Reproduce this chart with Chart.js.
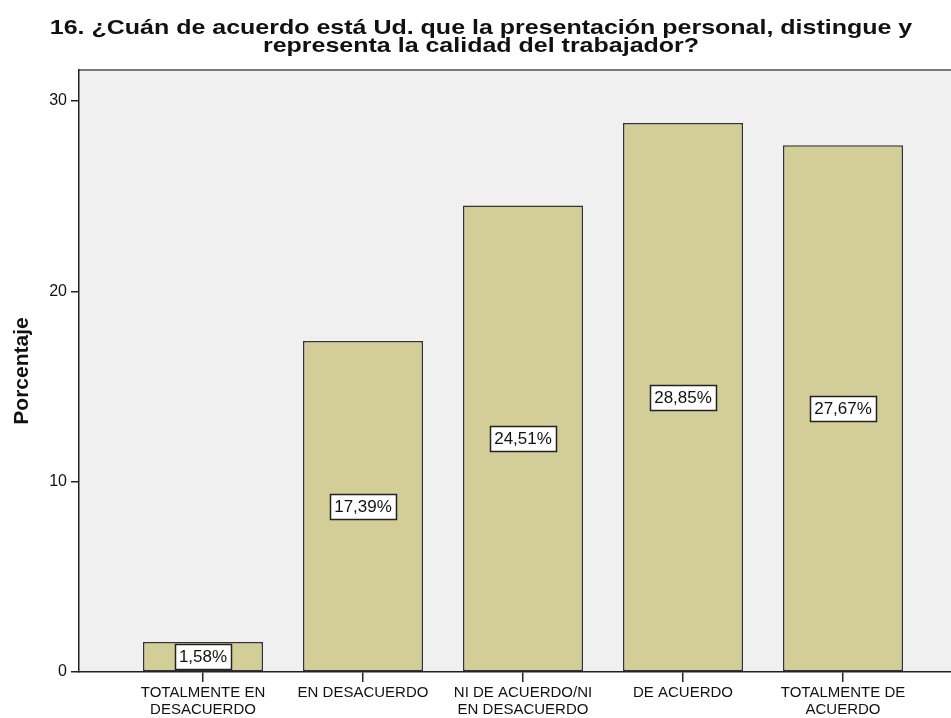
<!DOCTYPE html>
<html>
<head>
<meta charset="utf-8">
<title>Porcentaje</title>
<script src="https://cdn.jsdelivr.net/npm/chart.js@4.4.1/dist/chart.umd.min.js"></script>
<style>
  html, body { margin: 0; padding: 0; background: #fff; }
  canvas { display: block; }
</style>
</head>
<body>
<canvas id="grafico" width="951" height="718"></canvas>
<script>
// datos
const categorias = [
  ['TOTALMENTE EN', 'DESACUERDO'],
  'EN DESACUERDO',
  ['NI DE ACUERDO/NI', 'EN DESACUERDO'],
  'DE ACUERDO',
  ['TOTALMENTE DE', 'ACUERDO']
];
const porcentajes = [1.58, 17.39, 24.51, 28.85, 27.67];
const ticksY = [0, 10, 20, 30];
const titulo = [
  '16. ¿Cuán de acuerdo está Ud. que la presentación personal, distingue y',
  'representa la calidad del trabajador?'
];

const FUENTE = "'Liberation Sans', Arial, sans-serif";

// fondo gris del área, línea superior y título
const fondo = {
  id: 'fondo',
  beforeDraw(chart) {
    const { ctx, chartArea: a } = chart;
    ctx.save();
    ctx.fillStyle = '#fff';
    ctx.fillRect(0, 0, chart.width, chart.height);
    ctx.fillStyle = '#f0f0f0';
    ctx.fillRect(a.left, a.top, a.right - a.left, a.bottom - a.top);
    ctx.strokeStyle = '#7a7a7a';
    ctx.lineWidth = 2;
    ctx.beginPath();
    ctx.moveTo(a.left, a.top);
    ctx.lineTo(a.right, a.top);
    ctx.stroke();

    // título: el original está ensanchado en horizontal
    ctx.translate(481, 0);
    ctx.scale(1.19, 1);
    ctx.fillStyle = '#111';
    ctx.font = 'bold 21px ' + FUENTE;
    ctx.textAlign = 'center';
    ctx.textBaseline = 'middle';
    titulo.forEach((linea, i) => ctx.fillText(linea, 0, 28.5 + i * 18));
    ctx.restore();
  }
};

// etiquetas con recuadro blanco en el centro de cada barra
const etiquetas = {
  id: 'etiquetas',
  afterDatasetsDraw(chart) {
    const { ctx } = chart;
    const meta = chart.getDatasetMeta(0);
    ctx.save();
    ctx.font = '17px ' + FUENTE;
    ctx.textAlign = 'center';
    ctx.textBaseline = 'middle';
    meta.data.forEach((bar, i) => {
      const txt = porcentajes[i].toFixed(2).replace('.', ',') + '%';
      const w = Math.round(ctx.measureText(txt).width + 8);
      const h = 25;
      const cy = (bar.y + bar.base) / 2;
      const x0 = Math.round(bar.x - w / 2) + 0.5;
      const y0 = Math.round(cy - h / 2) + 0.5;
      ctx.fillStyle = '#fff';
      ctx.fillRect(x0, y0, w, h);
      ctx.strokeStyle = '#222';
      ctx.lineWidth = 1.5;
      ctx.strokeRect(x0, y0, w, h);
      ctx.fillStyle = '#111';
      ctx.fillText(txt, bar.x, cy + 1);
    });
    ctx.restore();
  }
};

new Chart(document.getElementById('grafico'), {
  type: 'bar',
  data: {
    datasets: [{
      data: porcentajes.map((v, i) => ({ x: i, y: v })),
      backgroundColor: '#d3ce97',
      borderColor: '#333',
      borderWidth: 1.5,
      borderSkipped: false,
      barPercentage: 0.75,
      categoryPercentage: 1
    }]
  },
  options: {
    responsive: false,
    devicePixelRatio: 1,
    animation: false,
    layout: { padding: { top: 70, left: 0, right: 0, bottom: 0 } },
    plugins: {
      legend: { display: false },
      tooltip: { enabled: false },
      title: { display: false }
    },
    scales: {
      x: {
        type: 'linear',
        offset: false,
        min: -0.775,
        max: 4.675,
        afterBuildTicks: s => { s.ticks = categorias.map((_, i) => ({ value: i })); },
        afterFit: s => { s.height = 46; },
        ticks: {
          autoSkip: false,
          maxRotation: 0,
          padding: 2,
          color: '#111',
          font: { family: FUENTE, size: 15, lineHeight: 1.15 },
          callback: v => categorias[v]
        },
        grid: { display: true, offset: false, drawOnChartArea: false, drawTicks: true, tickLength: 10, color: '#222', lineWidth: 1.5 },
        border: { display: true, color: '#222', width: 1.5 }
      },
      y: {
        min: 0,
        max: 31.63,
        afterBuildTicks: s => { s.ticks = ticksY.map(v => ({ value: v })); },
        afterFit: s => { s.width = 79; },
        ticks: {
          padding: 4,
          color: '#111',
          font: { family: FUENTE, size: 16 }
        },
        grid: { display: true, drawOnChartArea: false, drawTicks: true, tickLength: 8, color: '#222', lineWidth: 1.5 },
        border: { display: true, color: '#222', width: 1.5 },
        title: {
          display: true,
          text: 'Porcentaje',
          color: '#111',
          font: { family: FUENTE, size: 21, weight: 'bold' },
          padding: { top: 10, bottom: 0 }
        }
      }
    }
  },
  plugins: [fondo, etiquetas]
});
</script>
</body>
</html>
